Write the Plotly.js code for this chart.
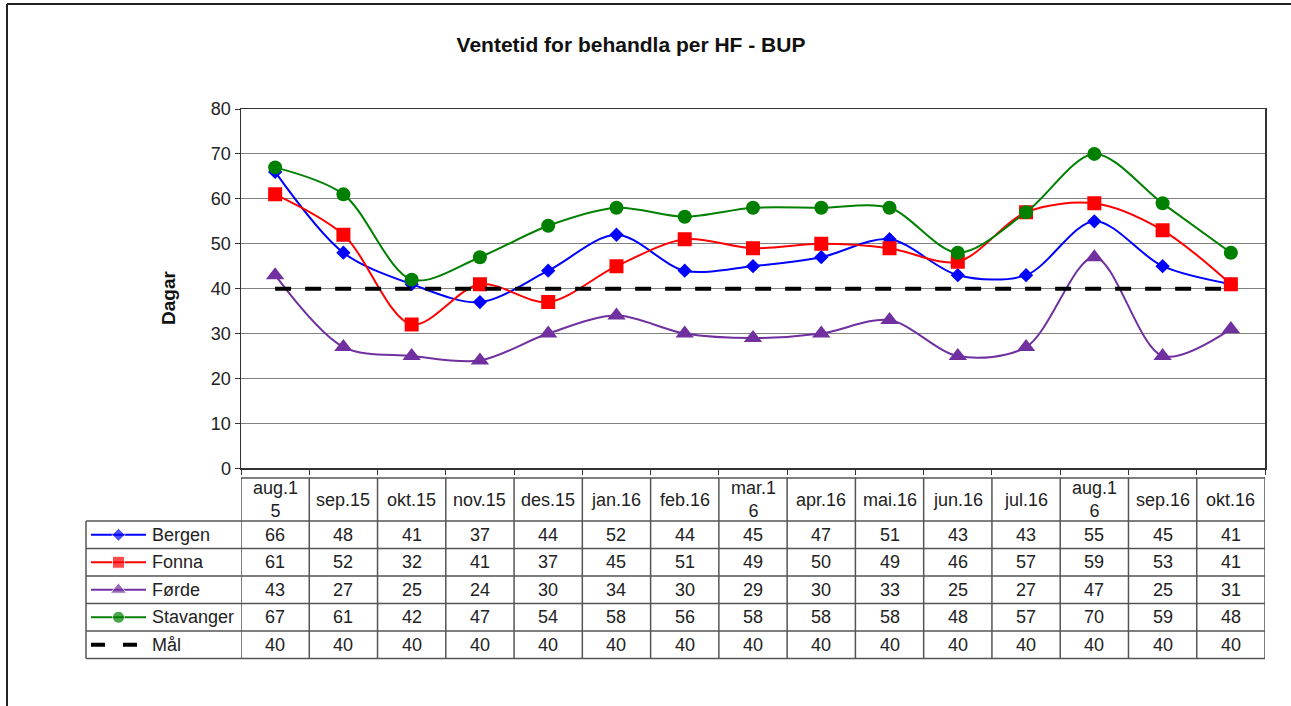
<!DOCTYPE html>
<html>
<head>
<meta charset="utf-8">
<script src="https://cdn.plot.ly/plotly-3.0.1.min.js"></script>
<style>html,body{margin:0;padding:0;background:#fff;}#chart{width:1291px;height:706px;}</style>
</head>
<body>
<div id="chart"></div>
<script>
// ---- Data ----
const categories = ["aug.15","sep.15","okt.15","nov.15","des.15","jan.16","feb.16","mar.16","apr.16","mai.16","jun.16","jul.16","aug.16","sep.16","okt.16"];
const headerLabels = ["aug.1<br>5","sep.15","okt.15","nov.15","des.15","jan.16","feb.16","mar.1<br>6","apr.16","mai.16","jun.16","jul.16","aug.1<br>6","sep.16","okt.16"];
const seriesNames = ["Bergen","Fonna","Førde","Stavanger","Mål"];
const bergen    = [66,48,41,37,44,52,44,45,47,51,43,43,55,45,41];
const fonna     = [61,52,32,41,37,45,51,49,50,49,46,57,59,53,41];
const forde     = [43,27,25,24,30,34,30,29,30,33,25,27,47,25,31];
const stavanger = [67,61,42,47,54,58,56,58,58,58,48,57,70,59,48];
const maal      = [40,40,40,40,40,40,40,40,40,40,40,40,40,40,40];
const yTicks    = [0,10,20,30,40,50,60,70,80];

// ---- Styling ----
const W = 1291, H = 706;
const py = px => 1 - px / H;
const px2 = x => x / W;
const FONT = "Liberation Sans, Arial, sans-serif";
const allSeries = [bergen, fonna, forde, stavanger, maal];
const styles = [
  {color:"#0000FF", symbol:"diamond", size:11, dash:"solid", width:2},
  {color:"#FF0000", symbol:"square", size:14, dash:"solid", width:2},
  {color:"#7030A0", symbol:"triangle-up", size:16, dash:"solid", width:2},
  {color:"#008000", symbol:"circle", size:14, dash:"solid", width:2},
  {color:"#000000", symbol:"line-ew", size:0, dash:"16px,14px", width:4}
];

const idx = categories.map((_, i) => i);
const traces = allSeries.map((vals, s) => ({
  type: "scatter",
  x: idx,
  y: vals,
  xaxis: "x", yaxis: "y",
  mode: s === 4 ? "lines" : "lines+markers",
  name: seriesNames[s],
  line: {color: styles[s].color, width: styles[s].width, dash: styles[s].dash, shape: s === 4 ? "linear" : "spline", smoothing: 0.9},
  marker: {symbol: styles[s].symbol, size: styles[s].size, color: styles[s].color},
  hoverinfo: "skip",
  showlegend: false
}));

// Table geometry (pixels)
const headerTop = 478, rowEdges = [521, 548.5, 576, 603.5, 631, 658.5];
const legLeft = 86, dataLeft = 241, dataRight = 1265;

// Legend sample traces in the table's first column (own axes)
seriesNames.forEach((nm, s) => {
  traces.push({
    type: "scatter",
    x: [0, 0.5, 1],
    y: [s, s, s],
    xaxis: "x2", yaxis: "y2",
    mode: s === 4 ? "lines" : "lines+markers",
    line: {color: styles[s].color, width: s === 4 ? 4 : 2, dash: s === 4 ? "14px,18px" : "solid"},
    marker: {symbol: styles[s].symbol, size: [0, s === 0 ? 10 : (s === 2 ? 14 : 12), 0], color: styles[s].color},
    hoverinfo: "skip",
    showlegend: false
  });
});

const shapes = [];
const annotations = [];
const bc = "#555";
// header row
shapes.push({type:"line", xref:"paper", yref:"paper", x0:px2(dataLeft), x1:px2(dataRight), y0:py(headerTop), y1:py(headerTop), line:{color:bc, width:1.5}});
// row lines
rowEdges.forEach(e => shapes.push({type:"line", xref:"paper", yref:"paper", x0:px2(legLeft), x1:px2(dataRight), y0:py(e), y1:py(e), line:{color:bc, width:1.5}}));
// vertical column lines (category boundaries)
for (let i = 0; i <= categories.length; i++) {
  shapes.push({type:"line", xref:"x", yref:"paper", x0:i - 0.5, x1:i - 0.5, y0:py(headerTop), y1:py(rowEdges[5]), line:{color:bc, width:1.5}});
}
// legend column left line
shapes.push({type:"line", xref:"paper", yref:"paper", x0:px2(legLeft), x1:px2(legLeft), y0:py(rowEdges[0]), y1:py(rowEdges[5]), line:{color:bc, width:1.5}});
// outer page frame
shapes.push({type:"line", xref:"paper", yref:"paper", x0:px2(7), x1:1, y0:py(4), y1:py(4), line:{color:"#222", width:2}});
shapes.push({type:"line", xref:"paper", yref:"paper", x0:px2(7), x1:px2(7), y0:py(4), y1:0, line:{color:"#222", width:2}});

// header labels
categories.forEach((c, i) => {
  annotations.push({xref:"x", yref:"paper", x:i, y:py((headerTop + rowEdges[0]) / 2), text:headerLabels[i], showarrow:false,
    font:{family:FONT, size:18, color:"#222"}, xanchor:"center", yanchor:"middle"});
});
// cell values
allSeries.forEach((vals, s) => {
  const cy = py((rowEdges[s] + rowEdges[s + 1]) / 2);
  vals.forEach((v, i) => {
    annotations.push({xref:"x", yref:"paper", x:i, y:cy, text:String(v), showarrow:false,
      font:{family:FONT, size:18, color:"#222"}, xanchor:"center", yanchor:"middle"});
  });
  annotations.push({xref:"paper", yref:"paper", x:px2(150), y:cy, text:seriesNames[s], showarrow:false,
    font:{family:FONT, size:18, color:"#222"}, xanchor:"left", yanchor:"middle"});
});
// y axis title
annotations.push({xref:"paper", yref:"paper", x:px2(168), y:py(298), text:"<b>Dagar</b>", textangle:-90, showarrow:false,
  font:{family:FONT, size:19, color:"#111"}, xanchor:"center", yanchor:"middle"});

const layout = {
  width: W, height: H,
  margin: {l:0, r:0, t:0, b:0},
  paper_bgcolor: "#fff", plot_bgcolor: "#fff",
  title: {text:"<b>Ventetid for behandla per HF - BUP</b>", x: px2(631), xanchor:"center", y: py(45), yanchor:"middle",
    font:{family:FONT, size:21, color:"#111"}},
  xaxis: {domain:[px2(dataLeft), px2(dataRight)], range:[-0.5, 14.5], type:"linear", showgrid:false, zeroline:false,
    showline:true, linecolor:"#333", linewidth:1.5, mirror:true,
    tickmode:"array", tickvals: categories.map((_, i) => i - 0.5).concat([14.5]), ticktext: categories.map(() => "").concat([""]),
    ticks:"outside", ticklen:5, tickcolor:"#333", showticklabels:false, fixedrange:true},
  yaxis: {domain:[py(468.3), py(109)], range:[0, 80], tickvals: yTicks, showgrid:true, gridcolor:"#808080", gridwidth:1,
    zeroline:false, showline:true, linecolor:"#333", linewidth:1.5, mirror:true, ticks:"outside", ticklen:5, tickcolor:"#333",
    tickfont:{family:FONT, size:18, color:"#222"}, fixedrange:true},
  xaxis2: {domain:[px2(91), px2(146)], range:[0, 1], visible:false, fixedrange:true, anchor:"y2"},
  yaxis2: {domain:[py(rowEdges[5]), py(rowEdges[0])], range:[4.5, -0.5], visible:false, fixedrange:true, anchor:"x2"},
  shapes: shapes,
  annotations: annotations,
  showlegend: false
};

Plotly.newPlot("chart", traces, layout, {staticPlot:true});
</script>
</body>
</html>
